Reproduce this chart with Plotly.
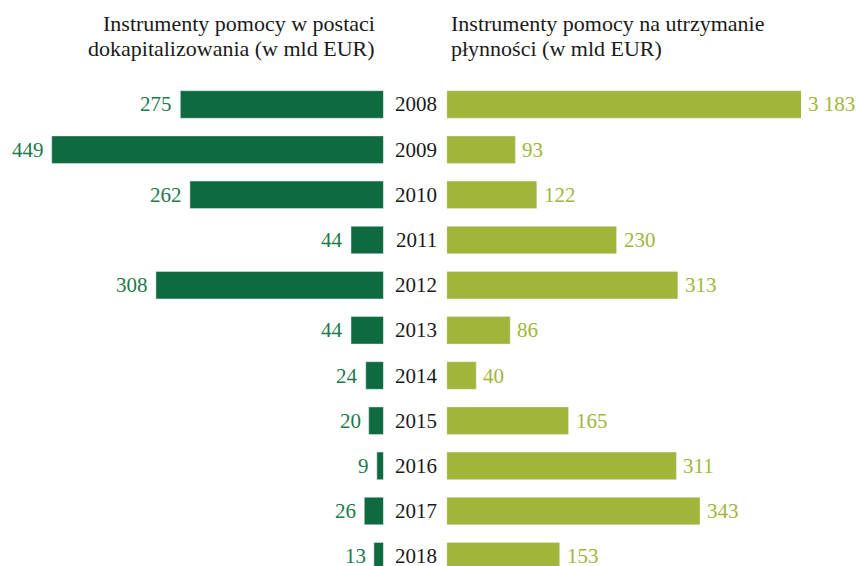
import plotly.graph_objects as go

years = [2008, 2009, 2010, 2011, 2012, 2013, 2014, 2015, 2016, 2017, 2018]
recap = [275, 449, 262, 44, 308, 44, 24, 20, 9, 26, 13]
liquidity = [3183, 93, 122, 230, 313, 86, 40, 165, 311, 343, 153]
recap_labels = ["275", "449", "262", "44", "308", "44", "24", "20", "9", "26", "13"]
liq_labels = ["3 183", "93", "122", "230", "313", "86", "40", "165", "311", "343", "153"]
title_left = ["Instrumenty pomocy w postaci", "dokapitalizowania (w mld EUR)"]
title_right = ["Instrumenty pomocy na utrzymanie", "płynności (w mld EUR)"]

W, H = 857, 566
DARK = "#0f6b3f"
DARK_TXT = "#1d7a4c"
OLIVE = "#a2b53b"
FONT = "Liberation Serif"

LEFT_MAX = 519.0
RIGHT_MAX = 479.7

fig = go.Figure()
fig.add_trace(go.Bar(y=years, x=recap, orientation="h", marker_color=DARK,
                     width=0.61, xaxis="x", yaxis="y", hoverinfo="skip"))
fig.add_trace(go.Bar(y=years, x=liquidity, orientation="h", marker_color=OLIVE,
                     width=0.61, xaxis="x2", yaxis="y", hoverinfo="skip"))

ann = []
for y, v, t in zip(years, recap, recap_labels):
    ann.append(dict(x=v, y=y, xref="x", yref="y", text=t, showarrow=False,
                    xanchor="right", yanchor="middle", xshift=-6,
                    font=dict(family=FONT, size=21, color=DARK_TXT)))
for y, v, t in zip(years, liquidity, liq_labels):
    ann.append(dict(x=min(v, RIGHT_MAX), y=y, xref="x2", yref="y", text=t, showarrow=False,
                    xanchor="left", yanchor="middle", xshift=5,
                    font=dict(family=FONT, size=21, color=OLIVE)))
for y in years:
    ann.append(dict(x=416 / W, y=y, xref="paper", yref="y", text=str(y), showarrow=False,
                    xanchor="center", yanchor="middle",
                    font=dict(family=FONT, size=21, color="#1a1a1a")))
for i, t in enumerate(title_left):
    ann.append(dict(x=377 / W, y=1 - (24 + 24 * i) / H, xref="paper", yref="paper", text=t,
                    showarrow=False, xanchor="right", yanchor="middle",
                    font=dict(family=FONT, size=22, color="#1a1a1a")))
for i, t in enumerate(title_right):
    ann.append(dict(x=449 / W, y=1 - (24 + 24 * i) / H, xref="paper", yref="paper", text=t,
                    showarrow=False, xanchor="left", yanchor="middle",
                    font=dict(family=FONT, size=22, color="#1a1a1a")))

fig.update_layout(
    width=W, height=H,
    margin=dict(l=0, r=0, t=0, b=0),
    plot_bgcolor="white", paper_bgcolor="white",
    showlegend=False,
    barmode="overlay",
    xaxis=dict(domain=[0, 383.5 / W], range=[LEFT_MAX, 0], visible=False, fixedrange=True),
    xaxis2=dict(domain=[446.7 / W, 801 / W], range=[0, RIGHT_MAX], visible=False, fixedrange=True),
    yaxis=dict(range=[2018.217, 2005.687], visible=False, fixedrange=True),
    annotations=ann,
)

fig.write_html("out.html")
